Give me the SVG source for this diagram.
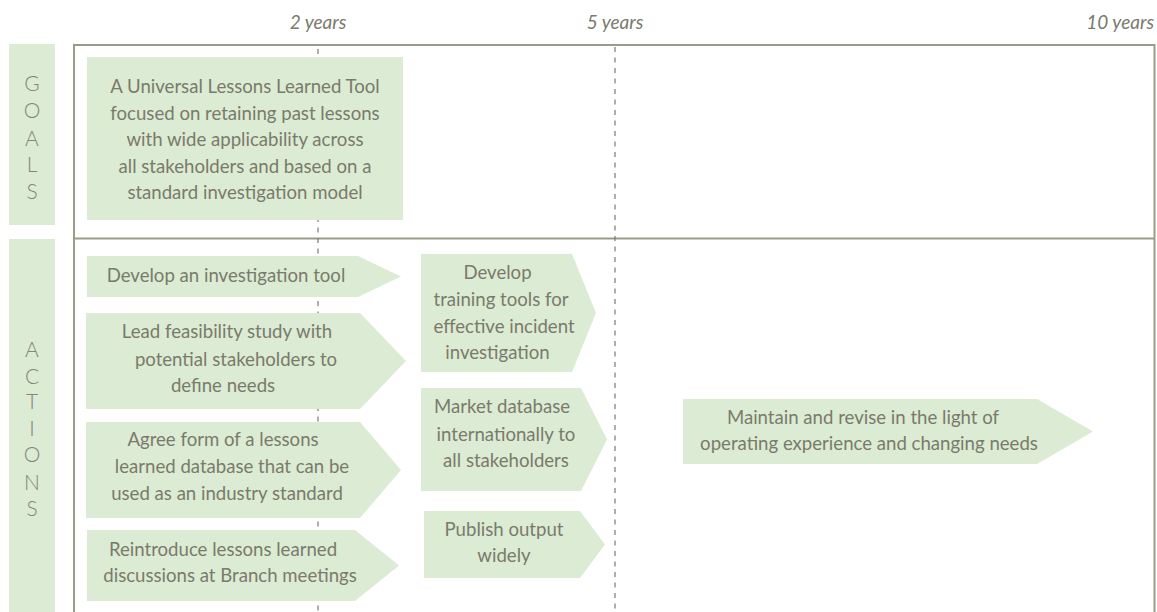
<svg xmlns="http://www.w3.org/2000/svg" width="1157" height="612" viewBox="0 0 1157 612">
<style>
.bx{fill:#dcebd3}
.t{font-family:Lato,"Open Sans",sans-serif;font-size:18.6px;fill:#7a7a6c;text-anchor:middle}
.yr{font-family:Lato,"Open Sans",sans-serif;font-size:19px;font-style:italic;fill:#7a7a6c}
.lt{font-family:Lato,"Open Sans",sans-serif;font-weight:300;font-size:21px;fill:#85857a;text-anchor:middle}
.frame{fill:none;stroke:#9b9b8a;stroke-width:2}
.dash{stroke:#7a7a70;stroke-width:1.2;stroke-dasharray:5 5.5}
</style>
<rect width="1157" height="612" fill="#fff"/>
<g id="axis">
<text class="yr" x="318" y="29" text-anchor="middle">2 years</text>
<text class="yr" x="615" y="29" text-anchor="middle">5 years</text>
<text class="yr" x="1154" y="29" text-anchor="end">10 years</text>
</g>
<g id="frame">
<path class="frame" d="M74,620 V45 H1154.5 V620"/>
<line class="frame" x1="74" y1="238.5" x2="1154.5" y2="238.5"/>
</g>
<g id="connectors">
<line class="dash" x1="318" y1="49" x2="318" y2="612"/>
<line class="dash" x1="615" y1="47" x2="615" y2="612"/>
</g>
<g id="goals-label">
<rect class="bx" x="9" y="44" width="46" height="181"/>
<text class="lt" x="32" y="91">G</text>
<text class="lt" x="32" y="118">O</text>
<text class="lt" x="32" y="145.5">A</text>
<text class="lt" x="32" y="172">L</text>
<text class="lt" x="32" y="199">S</text>
</g>
<g id="actions-label">
<rect class="bx" x="9" y="239" width="46" height="380"/>
<text class="lt" x="32" y="357">A</text>
<text class="lt" x="32" y="384">C</text>
<text class="lt" x="32" y="409">T</text>
<text class="lt" x="32" y="436">I</text>
<text class="lt" x="32" y="462">O</text>
<text class="lt" x="32" y="490">N</text>
<text class="lt" x="32" y="516">S</text>
</g>
<g id="goal">
<rect class="bx" x="87" y="57" width="316" height="163"/>
<text class="t" x="245" y="93">A Universal Lessons Learned Tool</text>
<text class="t" x="245" y="119.5">focused on retaining past lessons</text>
<text class="t" x="245" y="146">with wide applicability across</text>
<text class="t" x="245" y="172.5">all stakeholders and based on a</text>
<text class="t" x="245" y="199">standard investigation model</text>
</g>
<g id="a1">
<polygon class="bx" points="87,256 358,256 401,276.5 358,297 87,297"/>
<text class="t" x="226" y="282">Develop an investigation tool</text>
</g>
<g id="a2">
<polygon class="bx" points="86,313 360,313 406,361 360,409 86,409"/>
<text class="t" x="227" y="338">Lead feasibility study with</text>
<text class="t" x="236" y="366">potential stakeholders to</text>
<text class="t" x="223" y="392">define needs</text>
</g>
<g id="a3">
<polygon class="bx" points="86,422 360,422 401,470 360,518 86,518"/>
<text class="t" x="223" y="446">Agree form of a lessons</text>
<text class="t" x="232" y="473">learned database that can be</text>
<text class="t" x="227" y="500">used as an industry standard</text>
</g>
<g id="a4">
<polygon class="bx" points="87,530 355,530 399,565.5 355,601 87,601"/>
<text class="t" x="223" y="556">Reintroduce lessons learned</text>
<text class="t" x="230" y="582">discussions at Branch meetings</text>
</g>
<g id="a5">
<polygon class="bx" points="421,254 572,254 596,313 572,372 421,372"/>
<text class="t" x="497.5" y="279">Develop</text>
<text class="t" x="501" y="306">training tools for</text>
<text class="t" x="504" y="333">effective incident</text>
<text class="t" x="497.5" y="359">investigation</text>
</g>
<g id="a6">
<polygon class="bx" points="421,388 581,388 607,439.5 581,491 421,491"/>
<text class="t" x="502" y="413">Market database</text>
<text class="t" x="506" y="441">internationally to</text>
<text class="t" x="506" y="467">all stakeholders</text>
</g>
<g id="a7">
<polygon class="bx" points="424,511 580,511 605,544.5 580,578 424,578"/>
<text class="t" x="504" y="536">Publish output</text>
<text class="t" x="504" y="562">widely</text>
</g>
<g id="a8">
<polygon class="bx" points="683,399 1037,399 1093,431.5 1037,464 683,464"/>
<text class="t" x="863" y="424">Maintain and revise in the light of</text>
<text class="t" x="869" y="450">operating experience and changing needs</text>
</g>
</svg>
